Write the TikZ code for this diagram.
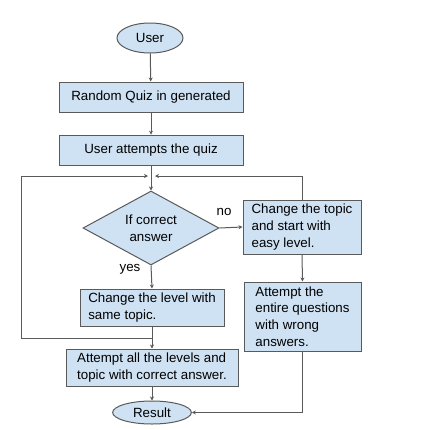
\documentclass[tikz,border=0pt]{standalone}
\usepackage{fontspec}
\setmainfont{Liberation Sans}
\usetikzlibrary{shapes.geometric,arrows.meta}
\definecolor{boxfill}{HTML}{CFE2F3}
\definecolor{boxline}{HTML}{5A5A5A}
\tikzset{
  flownode/.style={draw=boxline,fill=boxfill,line width=0.75pt,inner sep=0pt,
    font=\fontsize{10}{12.5}\selectfont},
  procbox/.style={flownode,rectangle},
  termnode/.style={flownode,ellipse},
  decnode/.style={flownode,diamond,aspect=1.84},
  flowline/.style={draw=boxline,line width=0.75pt},
  flowarrow/.style={flowline,-{Stealth[length=3pt,width=3pt]}},
  edgelabel/.style={font=\fontsize{10}{12}\selectfont}
}
\begin{document}
\begin{tikzpicture}[x=0.75pt,y=-0.75pt]
\useasboundingbox[fill=white] (0,0) rectangle (432,429);
\node[termnode, minimum width=49.5pt, minimum height=22.5pt] (user) at (150,38) {User};
\node[procbox, minimum width=138pt, minimum height=22.5pt] (quiz) at (151,97) {Random Quiz in generated};
\node[procbox, minimum width=138pt, minimum height=23pt] (attempt) at (151,150.5) {User attempts the quiz};
\node[decnode, minimum width=102pt, minimum height=55.5pt, align=center] (check) at (151,228) {If correct\\answer};
\node[procbox, minimum width=88.5pt, minimum height=40.5pt, align=left] (topic) at (302,227) {Change the topic\\and start with\\easy level.};
\node[procbox, minimum width=87.75pt, minimum height=51.75pt, align=left] (entire) at (302.5,316.5) {Attempt the\\entire questions\\with wrong\\answers.};
\node[procbox, minimum width=108pt, minimum height=27.75pt, align=left] (level) at (152,307.5) {Change the level with\\same topic.};
\node[procbox, minimum width=129pt, minimum height=27.75pt, align=left] (all) at (152,367.5) {Attempt all the levels and\\topic with correct answer.};
\node[termnode, minimum width=59pt, minimum height=17.25pt] (result) at (152,412.5) {Result};
\node[edgelabel] (nolabel) at (224,212) {no};
\node[edgelabel] (yeslabel) at (130,269) {yes};
\coordinate (lowjoin) at (152,338);
\coordinate (mergeL) at (148,176);
\coordinate (mergeR) at (155,176);
\coordinate (leftcorner) at (21,176);
\draw[flowarrow] (user) -- (quiz);
\draw[flowarrow] (quiz) -- (attempt);
\draw[flowarrow] (attempt) -- (check);
\draw[flowarrow] (check.east) -- (topic.west);
\draw[flowarrow] (check.south) -- (level.north);
\draw[flowarrow] (topic.south) -- (entire.north);
\draw[flowarrow] (level.south) -- (all.north);
\draw[flowarrow] (all) -- (result);
\draw[flowarrow] (entire.south) |- (result.east);
\draw[flowarrow] (lowjoin) -| (leftcorner) -- (mergeL);
\draw[flowarrow] (topic.north) |- (mergeR);
\end{tikzpicture}
\end{document}
